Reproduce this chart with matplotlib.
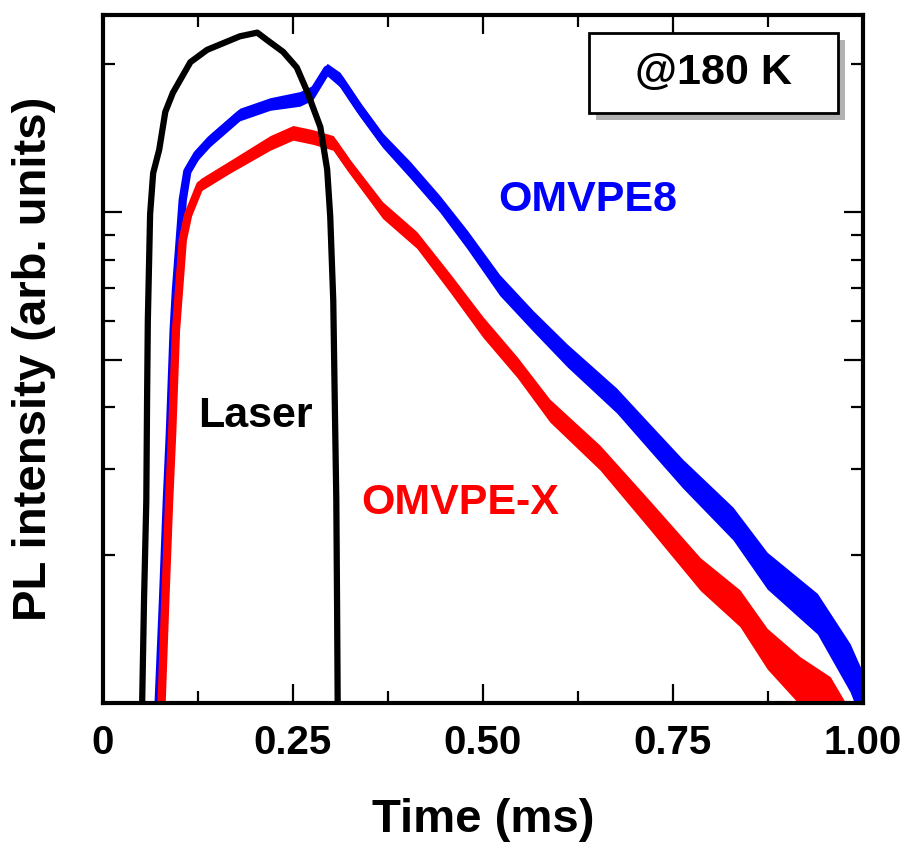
import numpy as np
import matplotlib.pyplot as plt
from matplotlib.patches import Rectangle
from matplotlib import patheffects
from matplotlib.ticker import FixedLocator, NullFormatter, FixedFormatter

# time in ms, PL intensity in arb. units (log scale)
laser_t = [0.051, 0.054, 0.057, 0.058, 0.059, 0.062, 0.066, 0.074, 0.082, 0.092,
           0.115, 0.137, 0.180, 0.203, 0.216, 0.237, 0.255, 0.268, 0.286, 0.295,
           0.299, 0.303, 0.305, 0.307, 0.308, 0.309]
laser_i = [0.9, 1.62, 2.58, 4.13, 6.0, 9.9, 12.0, 13.4, 16.0, 17.5,
           20.2, 21.4, 22.8, 23.2, 22.4, 21.2, 19.7, 17.7, 14.9, 12.2,
           9.8, 6.6, 4.1, 2.6, 1.6, 0.9]

omvpe8_t = [0.072, 0.079, 0.084, 0.088, 0.093, 0.096, 0.100, 0.105, 0.111, 0.124,
            0.141, 0.180, 0.220, 0.259, 0.276, 0.295, 0.312, 0.338, 0.368, 0.404,
            0.443, 0.479, 0.522, 0.566, 0.611, 0.676, 0.720, 0.763, 0.829, 0.874,
            0.940, 0.983, 1.0]
omvpe8_i = [0.9, 1.62, 2.58, 3.54, 5.74, 6.93, 8.36, 10.6, 12.1, 13.1,
            14.0, 15.8, 16.6, 17.0, 17.5, 19.5, 18.6, 16.2, 14.0, 12.2,
            10.4, 8.8, 7.1, 6.0, 5.1, 4.13, 3.47, 2.93, 2.32, 1.86,
            1.52, 1.18, 1.02]
# spread of the noise around the trace (ratio)
omvpe8_noise = [1.0, 1.0, 1.0, 1.0, 1.0, 1.01, 1.02, 1.025, 1.03, 1.03,
                1.03, 1.03, 1.03, 1.035, 1.035, 1.03, 1.035, 1.035, 1.035, 1.04,
                1.04, 1.045, 1.05, 1.05, 1.055, 1.06, 1.065, 1.07, 1.08, 1.09,
                1.1, 1.12, 1.13]

omvpex_t = [0.076, 0.082, 0.087, 0.091, 0.096, 0.099, 0.105, 0.112, 0.128, 0.167,
            0.220, 0.250, 0.276, 0.303, 0.325, 0.368, 0.413, 0.457, 0.500, 0.545,
            0.588, 0.654, 0.720, 0.786, 0.838, 0.874, 0.917, 0.957, 0.976]
omvpex_i = [0.9, 1.62, 2.58, 3.54, 5.74, 6.61, 8.77, 9.86, 11.35, 12.36,
            13.83, 14.5, 14.22, 13.83, 12.36, 10.09, 8.77, 7.16, 5.83, 4.83,
            3.94, 3.16, 2.41, 1.83, 1.56, 1.29, 1.11, 1.01, 0.9]
omvpex_noise = [1.0, 1.0, 1.0, 1.0, 1.0, 1.01, 1.02, 1.025, 1.03, 1.03,
                1.035, 1.035, 1.035, 1.035, 1.035, 1.04, 1.04, 1.045, 1.05, 1.05,
                1.055, 1.06, 1.07, 1.08, 1.09, 1.1, 1.12, 1.12, 1.12]

x_ticks = [0, 0.25, 0.5, 0.75, 1.0]
x_ticklabels = ['0', '0.25', '0.50', '0.75', '1.00']
x_minor = [0.125, 0.375, 0.625, 0.875]
y_major = [5, 10]
y_minor = [2, 3, 4, 6, 7, 8, 9, 20]

plt.rcParams['font.family'] = ['Liberation Sans', 'DejaVu Sans']
plt.rcParams['font.weight'] = 'bold'

fig = plt.figure(figsize=(9.13, 8.47), dpi=100)
ax = fig.add_axes([0.1128, 0.17, 0.8324, 0.8123])

ax.plot(laser_t, laser_i, color='black', lw=4.5, zorder=3)

for t, i, s, c in [(omvpe8_t, omvpe8_i, omvpe8_noise, '#0000ff'),
                   (omvpex_t, omvpex_i, omvpex_noise, '#ff0000')]:
    i = np.array(i)
    s = np.array(s)
    ax.fill_between(t, i / s, i * s, color=c, lw=0, zorder=2)
    ax.plot(t, i, color=c, lw=6, zorder=2)

ax.set_yscale('log')
ax.set_xlim(0, 1.0)
ax.set_ylim(1, 25.2)

ax.xaxis.set_major_locator(FixedLocator(x_ticks))
ax.xaxis.set_major_formatter(FixedFormatter(x_ticklabels))
ax.xaxis.set_minor_locator(FixedLocator(x_minor))
ax.yaxis.set_major_locator(FixedLocator(y_major))
ax.yaxis.set_minor_locator(FixedLocator(y_minor))
ax.yaxis.set_major_formatter(NullFormatter())
ax.yaxis.set_minor_formatter(NullFormatter())

ax.tick_params(which='both', direction='in', top=True, right=True, width=1.6)
ax.tick_params(which='major', length=14)
ax.tick_params(which='minor', length=8.5)
ax.tick_params(axis='x', which='major', pad=15, labelsize=29)
for sp in ax.spines.values():
    sp.set_linewidth(3)

ax.set_xlabel('Time (ms)', fontsize=34, fontweight='bold')
ax.set_ylabel('PL intensity (arb. units)', fontsize=34, fontweight='bold')
ax.xaxis.set_label_coords(0.5, -0.138)
ax.yaxis.set_label_coords(-0.062, 0.5)

ax.text(0.638, 10.6, 'OMVPE8', color='#0000ff', fontsize=31, fontweight='bold',
        ha='center', va='center')
ax.text(0.47, 2.56, 'OMVPE-X', color='#ff0000', fontsize=31, fontweight='bold',
        ha='center', va='center')
ax.text(0.201, 3.85, 'Laser', color='black', fontsize=31, fontweight='bold',
        ha='center', va='center')

box = Rectangle((0.6395, 0.8576), 0.3275, 0.1162, transform=ax.transAxes,
                facecolor='white', edgecolor='black', lw=2, zorder=5,
                path_effects=[patheffects.withSimplePatchShadow(offset=(5, -5),
                                                                shadow_rgbFace='0.4',
                                                                alpha=0.5)])
ax.add_patch(box)
ax.text(0.8026, 0.9157, '@180 K', transform=ax.transAxes, fontsize=31,
        fontweight='bold', ha='center', va='center', zorder=6)

fig.savefig('out.png', dpi=100)
